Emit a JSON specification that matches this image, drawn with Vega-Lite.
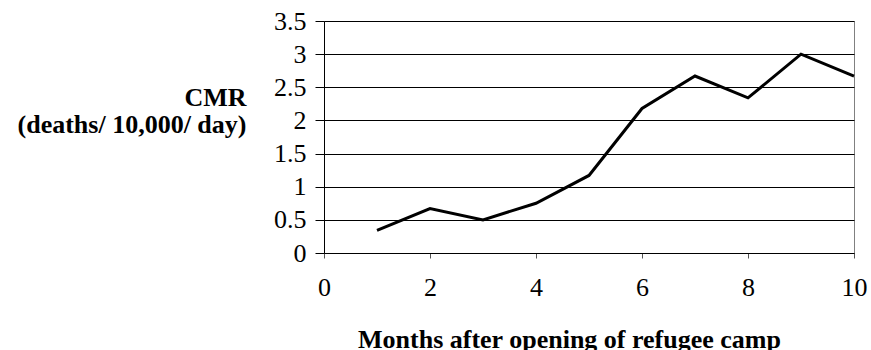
{
  "$schema": "https://vega.github.io/schema/vega-lite/v6.json",
  "width": 530,
  "height": 232,
  "autosize": {"type": "none"},
  "padding": {"left": 324, "top": 21, "right": 17, "bottom": 97},
  "background": "white",
  "config": {
    "view": {"stroke": "#808080", "strokeWidth": 1},
    "font": "Liberation Serif"
  },
  "data": {
    "values": [
      {"month": 1, "cmr": 0.34},
      {"month": 2, "cmr": 0.67},
      {"month": 3, "cmr": 0.5},
      {"month": 4, "cmr": 0.75},
      {"month": 5, "cmr": 1.17},
      {"month": 6, "cmr": 2.18},
      {"month": 7, "cmr": 2.67},
      {"month": 8, "cmr": 2.34},
      {"month": 9, "cmr": 3.0},
      {"month": 10, "cmr": 2.67}
    ]
  },
  "mark": {"type": "line", "color": "black", "strokeWidth": 3, "strokeJoin": "miter"},
  "encoding": {
    "x": {
      "field": "month",
      "type": "quantitative",
      "scale": {"domain": [0, 10], "nice": false},
      "axis": {
        "values": [0, 2, 4, 6, 8, 10],
        "format": "d",
        "grid": false,
        "domainColor": "black",
        "domainWidth": 1,
        "tickColor": "#555",
        "tickSize": 5,
        "labelFont": "Liberation Serif",
        "labelFontSize": 26,
        "labelColor": "black",
        "labelPadding": 16,
        "labelFlush": false,
        "title": "Months after opening of refugee camp",
        "titleFont": "Liberation Serif",
        "titleFontSize": 26,
        "titleFontWeight": "bold",
        "titleColor": "black",
        "titleX": 245,
        "titleY": 94,
        "titleBaseline": "alphabetic",
        "titleAnchor": "middle",
        "titleAlign": "center"
      }
    },
    "y": {
      "field": "cmr",
      "type": "quantitative",
      "scale": {"domain": [0, 3.5], "nice": false},
      "axis": {
        "values": [0, 0.5, 1, 1.5, 2, 2.5, 3, 3.5],
        "format": "~g",
        "grid": true,
        "gridColor": "black",
        "gridWidth": 1,
        "domainColor": "black",
        "domainWidth": 1,
        "tickColor": "black",
        "tickSize": 9,
        "labelFont": "Liberation Serif",
        "labelFontSize": 26,
        "labelColor": "black",
        "labelPadding": 9,
        "title": ["CMR", "(deaths/ 10,000/ day)"],
        "titleFont": "Liberation Serif",
        "titleFontSize": 26,
        "titleFontWeight": "bold",
        "titleColor": "black",
        "titleAngle": 0,
        "titleAlign": "right",
        "titleBaseline": "alphabetic",
        "titleLineHeight": 27,
        "titleX": -78,
        "titleY": 84
      }
    }
  }
}
